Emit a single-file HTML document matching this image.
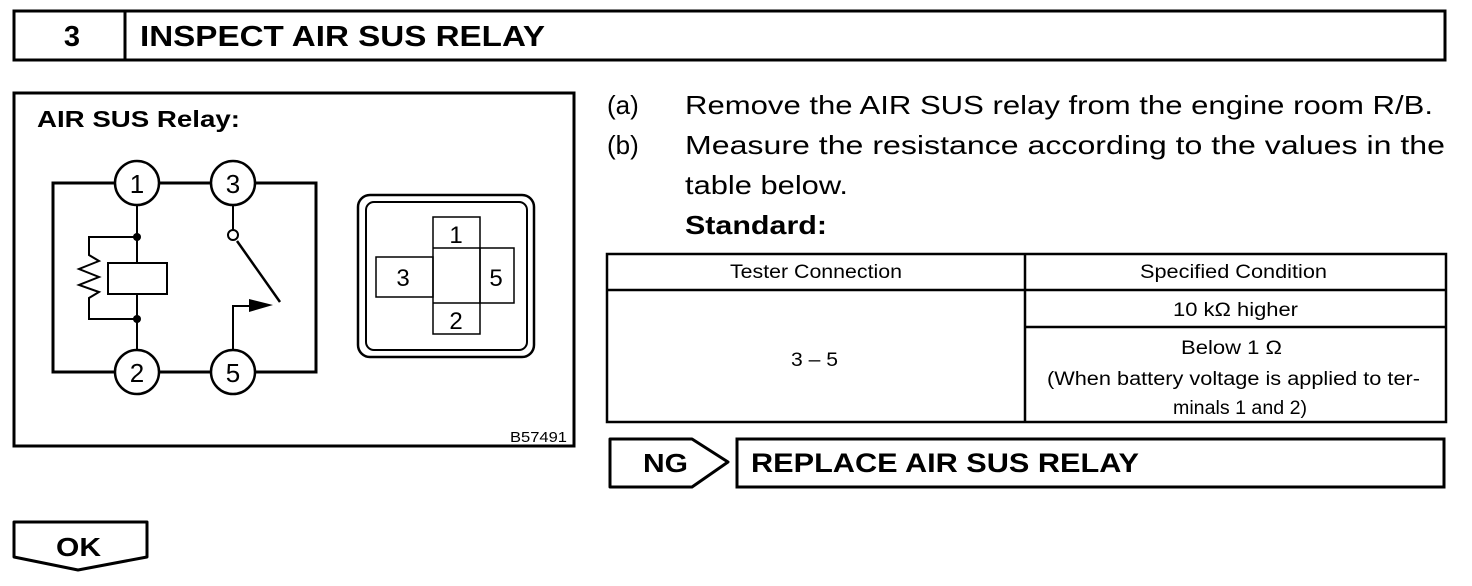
<!DOCTYPE html>
<html><head><meta charset="utf-8"><style>
html,body{margin:0;padding:0;background:#fff;}
svg{display:block;font-family:"Liberation Sans",Arial,sans-serif;}
</style></head><body>
<svg width="1472" height="586" viewBox="0 0 1472 586" xmlns="http://www.w3.org/2000/svg">
<!-- header -->
<rect x="14" y="11" width="1431" height="49" fill="none" stroke="#000" stroke-width="3"/>
<line x1="125" y1="11" x2="125" y2="60" stroke="#000" stroke-width="3"/>
<text x="72" y="46" font-size="29" font-weight="bold" text-anchor="middle">3</text>
<text x="140" y="46" font-size="29" font-weight="bold" textLength="405" lengthAdjust="spacingAndGlyphs">INSPECT AIR SUS RELAY</text>

<!-- figure box -->
<rect x="14" y="93" width="560" height="353" fill="none" stroke="#000" stroke-width="3"/>
<text x="37" y="127" font-size="23" font-weight="bold" textLength="203" lengthAdjust="spacingAndGlyphs">AIR SUS Relay:</text>
<text x="510" y="442" font-size="15" textLength="57" lengthAdjust="spacingAndGlyphs">B57491</text>

<!-- circuit -->
<g stroke="#000" fill="none">
<rect x="53" y="183" width="263" height="189" stroke-width="3"/>
<line x1="137" y1="205" x2="137" y2="263" stroke-width="2"/>
<line x1="137" y1="294" x2="137" y2="350" stroke-width="2"/>
<rect x="108" y="263" width="59" height="31" stroke-width="2" fill="#fff"/>
<polyline points="137,237 89,237 89,255 99,261 79,269 99,277 79,285 99,292 89,298 89,319 137,319" stroke-width="2"/>
<line x1="233" y1="205" x2="233" y2="230" stroke-width="2"/>
<circle cx="233" cy="235" r="5" stroke-width="2" fill="#fff"/>
<line x1="237" y1="241" x2="280" y2="302" stroke-width="2.5"/>
<polyline points="233,350 233,306 250,306" stroke-width="2"/>
</g>
<polygon points="249,299 273,305 249,312" fill="#000"/>
<circle cx="137" cy="237" r="4" fill="#000"/>
<circle cx="137" cy="319" r="4" fill="#000"/>
<g stroke="#000" stroke-width="2.5" fill="#fff">
<circle cx="137" cy="183" r="22"/>
<circle cx="233" cy="183" r="22"/>
<circle cx="137" cy="372" r="22"/>
<circle cx="233" cy="372" r="22"/>
</g>
<g font-size="26" text-anchor="middle">
<text x="137" y="193">1</text>
<text x="233" y="193">3</text>
<text x="137" y="382">2</text>
<text x="233" y="382">5</text>
</g>

<!-- connector -->
<g stroke="#000" fill="none">
<rect x="358" y="195" width="176" height="162" rx="12" stroke-width="2.5"/>
<rect x="366" y="202" width="161" height="148" rx="8" stroke-width="2"/>
<rect x="433" y="217" width="47" height="117" stroke-width="1.5"/>
<line x1="433" y1="248" x2="480" y2="248" stroke-width="1.5"/>
<line x1="433" y1="303" x2="480" y2="303" stroke-width="1.5"/>
<rect x="376" y="257" width="57" height="40" stroke-width="1.5"/>
<rect x="480" y="248" width="34" height="55" stroke-width="1.5"/>
</g>
<g font-size="24" text-anchor="middle">
<text x="456" y="243">1</text>
<text x="403" y="286">3</text>
<text x="496" y="286">5</text>
<text x="456" y="329">2</text>
</g>

<!-- instructions -->
<g font-size="26">
<text x="607" y="114">(a)</text>
<text x="685" y="114" textLength="748" lengthAdjust="spacingAndGlyphs">Remove the AIR SUS relay from the engine room R/B.</text>
<text x="607" y="154">(b)</text>
<text x="685" y="154" textLength="760" lengthAdjust="spacingAndGlyphs">Measure the resistance according to the values in the</text>
<text x="685" y="194" textLength="163" lengthAdjust="spacingAndGlyphs">table below.</text>
<text x="685" y="234" font-weight="bold" textLength="142" lengthAdjust="spacingAndGlyphs">Standard:</text>
</g>

<!-- table -->
<g stroke="#000" fill="none" stroke-width="2.5">
<rect x="607" y="254" width="839" height="168"/>
<line x1="1025" y1="254" x2="1025" y2="422"/>
<line x1="607" y1="290" x2="1446" y2="290"/>
<line x1="1025" y1="327" x2="1446" y2="327"/>
</g>
<g font-size="19">
<text x="730" y="278" textLength="172" lengthAdjust="spacingAndGlyphs">Tester Connection</text>
<text x="1140" y="278" textLength="187" lengthAdjust="spacingAndGlyphs">Specified Condition</text>
<text x="1173" y="316" textLength="125" lengthAdjust="spacingAndGlyphs">10 kΩ higher</text>
<text x="791" y="366" textLength="47" lengthAdjust="spacingAndGlyphs">3 – 5</text>
<text x="1181" y="354" textLength="101" lengthAdjust="spacingAndGlyphs">Below 1 Ω</text>
<text x="1047" y="385" textLength="373" lengthAdjust="spacingAndGlyphs">(When battery voltage is applied to ter-</text>
<text x="1173" y="414" textLength="134" lengthAdjust="spacingAndGlyphs">minals 1 and 2)</text>
</g>

<!-- NG -->
<polygon points="610,439 692,439 728,462 692,487 610,487" fill="none" stroke="#000" stroke-width="3" stroke-linejoin="round"/>
<text x="643" y="472" font-size="26" font-weight="bold" textLength="45" lengthAdjust="spacingAndGlyphs">NG</text>
<rect x="737" y="439" width="707" height="48" fill="none" stroke="#000" stroke-width="3"/>
<text x="751" y="472" font-size="27" font-weight="bold" textLength="388" lengthAdjust="spacingAndGlyphs">REPLACE AIR SUS RELAY</text>

<!-- OK -->
<polygon points="14,522 147,522 147,557 78,570 14,557" fill="none" stroke="#000" stroke-width="3" stroke-linejoin="round"/>
<text x="56" y="556" font-size="26" font-weight="bold" textLength="45" lengthAdjust="spacingAndGlyphs">OK</text>
</svg>
</body></html>
